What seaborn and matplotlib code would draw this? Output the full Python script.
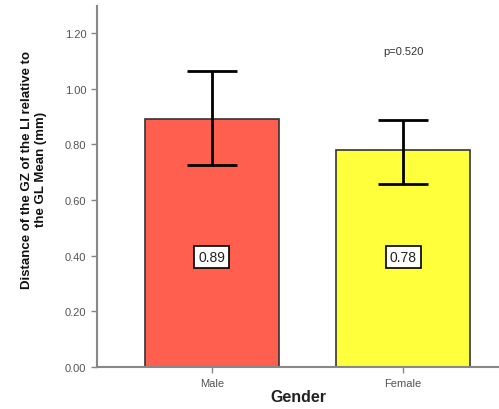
import seaborn as sns
import matplotlib.pyplot as plt
import pandas as pd
import numpy as np

gender = ['Male', 'Female']
mean_dist = [0.89, 0.78]
err_low = [0.726, 0.658]
err_high = [1.064, 0.886]
bar_colors = ['#ff5f4f', '#ffff3c']

df = pd.DataFrame({'Gender': gender, 'Distance': mean_dist})

sns.set_style('white')
plt.rcParams['font.family'] = ['Liberation Sans', 'DejaVu Sans']

fig = plt.figure(figsize=(4.99, 4.10), dpi=100)
ax = fig.add_axes([0.194, 0.102, 0.806, 0.881])

g = sns.barplot(x='Gender', y='Distance', data=df, hue='Gender', palette=bar_colors,
                saturation=1, width=0.7, edgecolor='#333333', linewidth=1.2,
                legend=False, ax=ax)

means = np.array(mean_dist)
yerr = [means - np.array(err_low), np.array(err_high) - means]
ax.errorbar(range(len(gender)), means, yerr=yerr, fmt='none', ecolor='black',
            elinewidth=2, capsize=18, capthick=2, zorder=5)

# value boxes in the middle of the bars
for i, v in enumerate(mean_dist):
    ax.text(i, 0.395, f'{v:.2f}', ha='center', va='center', fontsize=10, color='#222222',
            bbox=dict(boxstyle='square,pad=0.3', fc='white', ec='black', lw=1.2), zorder=6)

ax.text(1, 1.135, 'p=0.520', ha='center', va='center', fontsize=8, color='#333333')

ax.set_xlim(-0.6, 1.5)
ax.set_ylim(0, 1.297)
ticks = np.arange(0, 1.21, 0.2)
ax.set_yticks(ticks)
ax.set_yticklabels([f'{t:.2f}' for t in ticks])

for s in ['top', 'right']:
    ax.spines[s].set_visible(False)
for s in ['left', 'bottom']:
    ax.spines[s].set_color('#888888')
    ax.spines[s].set_linewidth(1.5)
ax.tick_params(axis='both', direction='out', length=4, width=1, color='#888888',
               labelcolor='#555555', labelsize=8, left=True, bottom=True)

ax.set_ylabel('Distance of the GZ of the LI relative to\nthe GL Mean (mm)', fontweight='bold',
              fontsize=9.5, color='#111111')
ax.yaxis.set_label_coords(-0.125, 0.55)
ax.set_xlabel('Gender', fontweight='bold', fontsize=11.5, color='#222222', labelpad=1)

plt.savefig('out.png', dpi=100)
